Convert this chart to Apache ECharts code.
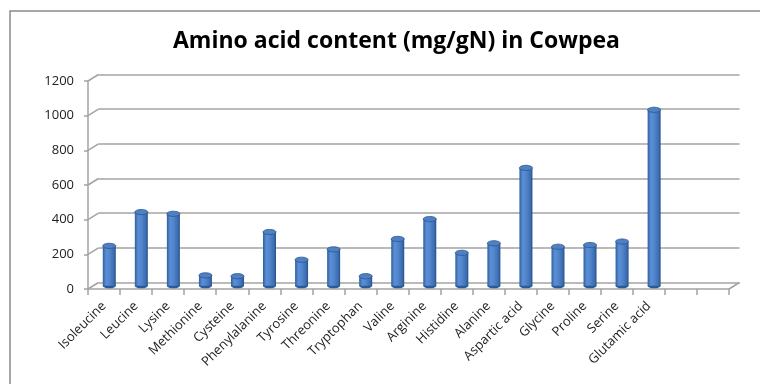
<!DOCTYPE html>
<html>
<head>
<meta charset="utf-8">
<script src="https://cdn.jsdelivr.net/npm/echarts@6/dist/echarts.min.js"></script>
<style>
  html, body { margin: 0; padding: 0; background: #fff; }
  #chart { width: 760px; height: 384px; }
</style>
</head>
<body>
<div id="chart"></div>
<script>
// Amino acid profile of cowpea, mg per g of nitrogen
const aminoAcids = ['Isoleucine', 'Leucine', 'Lysine', 'Methionine', 'Cysteine', 'Phenylalanine',
  'Tyrosine', 'Threonine', 'Tryptophan', 'Valine', 'Arginine', 'Histidine', 'Alanine',
  'Aspartic acid', 'Glycine', 'Proline', 'Serine', 'Glutamic acid'];
const content = [230, 425, 415, 60, 55, 310, 150, 210, 55, 270, 385, 190, 245, 680, 225, 235, 255, 1015];
// two trailing empty slots on the category axis
const categories = aminoAcids.concat(['', '']);
const yTicks = [0, 200, 400, 600, 800, 1000, 1200];

const chart = echarts.init(document.getElementById('chart'));

// depth of the pseudo-3D box: back wall is shifted right/up
const DEPTH_X = 10.5, DEPTH_Y = -6.5;
const GRID_C = '#a3a3a3';
const FONT = '"Open Sans", sans-serif';

function cylinder(params, api) {
  const i = api.value(0), v = api.value(1);
  const base = api.coord([i, 0]);
  const top = api.coord([i, v]);
  const cx = base[0] + DEPTH_X / 2;
  const by = base[1] + DEPTH_Y / 2;
  const ty = top[1] + DEPTH_Y / 2;
  const w = 13, ry = 2.6;
  const body = new echarts.graphic.LinearGradient(0, 0, 1, 0, [
    { offset: 0, color: '#2f5e9c' },
    { offset: 0.25, color: '#5a8fd6' },
    { offset: 0.5, color: '#5286cd' },
    { offset: 0.85, color: '#3b6db0' },
    { offset: 1, color: '#264f86' }
  ]);
  return {
    type: 'group',
    children: [
      { type: 'ellipse', shape: { cx: cx, cy: by, rx: w / 2, ry: ry }, style: { fill: '#2d5a95' } },
      { type: 'rect', shape: { x: cx - w / 2, y: ty, width: w, height: by - ty }, style: { fill: body } },
      { type: 'ellipse', shape: { cx: cx, cy: ty, rx: w / 2, ry: ry },
        style: { fill: '#4f80c2', stroke: '#2c5690', lineWidth: 0.8 } }
    ]
  };
}

function depthEdges(params, api) {
  const t = api.value(1);
  const cs = params.coordSys;
  const y = api.coord([0, t])[1];
  const kids = [{
    type: 'line',
    shape: { x1: cs.x, y1: y, x2: cs.x + DEPTH_X, y2: y + DEPTH_Y },
    style: { stroke: GRID_C, lineWidth: 1.5 }
  }];
  if (t === 0) {
    kids.push({
      type: 'line',
      shape: { x1: cs.x + cs.width, y1: y, x2: cs.x + cs.width + DEPTH_X, y2: y + DEPTH_Y },
      style: { stroke: GRID_C, lineWidth: 1.5 }
    });
  }
  return { type: 'group', children: kids };
}

chart.setOption({
  animation: false,
  backgroundColor: '#fff',
  title: {
    text: 'Amino acid content (mg/gN) in Cowpea',
    left: 168, top: 25,
    textStyle: { fontFamily: FONT, fontWeight: 'bold', fontSize: 23, color: '#000' }
  },
  graphic: [{
    type: 'rect', silent: true,
    shape: { x: 10, y: 11, width: 900, height: 500 },
    style: { fill: 'none', stroke: '#8a8a8a', lineWidth: 1.5 }
  }],
  grid: [
    { left: 88, right: 31, top: 81, bottom: 95 },
    { left: 88 + DEPTH_X, right: 31 - DEPTH_X, top: 81 + DEPTH_Y, bottom: 95 - DEPTH_Y }
  ],
  xAxis: [
    {
      type: 'category', gridIndex: 0, data: categories,
      axisLine: { lineStyle: { color: GRID_C, width: 1.5 } },
      axisTick: { show: true, interval: 0, length: 6, lineStyle: { color: GRID_C, width: 1.5 } },
      axisLabel: { interval: 0, rotate: 45, margin: 15, fontFamily: FONT, fontSize: 13, color: '#222' },
      splitLine: { show: false }
    },
    { type: 'value', gridIndex: 1, show: false }
  ],
  yAxis: [
    {
      type: 'value', gridIndex: 0, min: 0, max: 1200, interval: 200,
      axisLine: { show: true, lineStyle: { color: GRID_C, width: 1.5 } },
      axisTick: { show: true, length: 4, lineStyle: { color: GRID_C, width: 1.5 } },
      axisLabel: { margin: 14, fontFamily: FONT, fontSize: 13, color: '#222', formatter: v => String(v) },
      splitLine: { show: false }
    },
    {
      type: 'value', gridIndex: 1, min: 0, max: 1200, interval: 200,
      axisLine: { show: false }, axisTick: { show: false }, axisLabel: { show: false },
      splitLine: { show: true, lineStyle: { color: GRID_C, width: 1.5 } }
    }
  ],
  series: [
    {
      type: 'custom', xAxisIndex: 0, yAxisIndex: 0, silent: true,
      renderItem: depthEdges,
      data: yTicks.map(t => [0, t]),
      z: 1
    },
    {
      type: 'custom', xAxisIndex: 0, yAxisIndex: 0,
      renderItem: cylinder,
      data: content.map((v, i) => [i, v]),
      z: 3
    }
  ]
});
</script>
</body>
</html>
